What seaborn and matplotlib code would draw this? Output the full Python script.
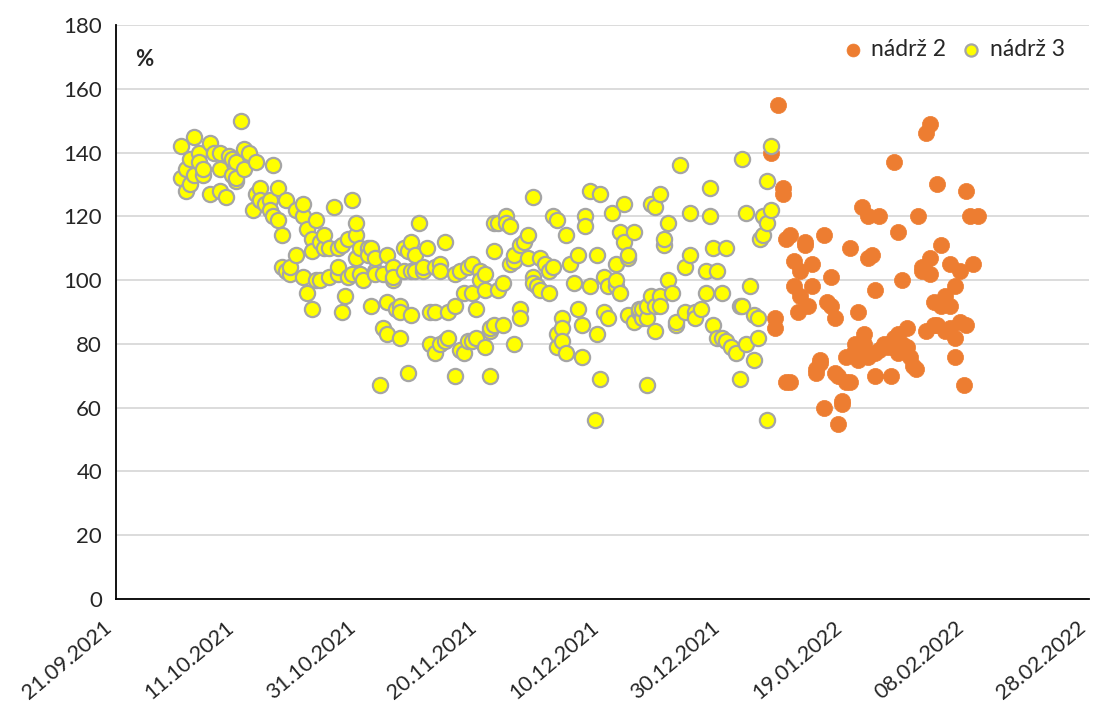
import matplotlib.pyplot as plt
import matplotlib.dates as mdates
import pandas as pd
import seaborn as sns

# Start date and day offsets
start = pd.Timestamp('2021-09-21')

n3_days = [10.7, 10.7, 11.5, 11.5, 12.2, 12.2, 12.8, 12.8, 13.7, 13.7, 14.3, 14.3, 15.5, 15.5,
           16.1, 17.1, 17.1, 17.1, 18.1, 18.6, 19.1, 19.1, 19.7, 19.7, 19.7, 20.6, 21.1, 21.1,
           21.9, 22.5, 23.0, 23.0, 23.7, 23.7, 23.7, 24.5, 25.3, 25.3, 25.8, 25.8, 26.6, 26.6,
           27.3, 27.3, 28.0, 28.0, 28.6, 28.6, 29.6, 29.6, 30.8, 30.8, 30.8, 31.4, 31.4,
           32.2, 32.2, 32.2, 32.9, 32.9, 33.6, 33.6, 34.2, 34.2, 35.0, 35.0, 35.9, 36.5, 36.5,
           36.5, 37.2, 37.2, 37.7, 38.2, 38.2, 38.8, 38.8, 39.5, 39.5, 39.5, 40.1, 40.1, 40.6,
           41.4, 41.4, 41.9, 41.9, 42.6, 42.6, 42.6, 43.4, 43.9, 43.9, 44.6, 44.6, 44.6,
           45.6, 45.6, 45.6, 46.1, 46.7, 46.7, 46.7, 47.4, 47.4, 48.0, 48.0, 48.5, 48.5, 48.5,
           49.2, 49.2, 49.8, 50.5, 50.5, 51.2, 51.6, 51.6, 52.5, 52.5, 52.5, 53.3, 53.3, 53.3,
           54.1, 54.1, 54.6, 54.6, 55.8, 55.8, 55.8, 56.6, 56.6, 57.2, 57.2, 57.9, 57.9,
           58.6, 58.6, 58.6, 59.2, 59.2, 59.9, 59.9, 60.7, 60.7, 60.7, 61.5, 61.5, 61.5,
           62.2, 62.2, 62.2, 62.8, 62.8, 63.7, 63.7, 64.1, 64.1, 64.8, 64.8, 65.5, 65.5, 65.5,
           66.4, 66.4, 66.4, 67.1, 67.8, 67.8, 68.6, 68.6, 68.6, 69.2, 69.7, 69.7, 70.6,
           71.2, 71.2, 71.9, 71.9, 72.5, 72.5, 72.5, 73.4, 73.4, 73.4, 74.0, 74.0, 74.7, 75.3,
           76.0, 76.0, 76.6, 76.6, 77.1, 77.1, 78.0, 78.0, 78.8, 79.1, 79.1, 79.6, 79.6,
           80.3, 80.3, 80.9, 80.9, 81.6, 82.2, 82.2, 82.2, 82.9, 82.9, 83.6, 83.6,
           84.2, 84.2, 84.2, 85.2, 85.2, 86.0, 86.0, 86.5, 86.5, 87.3, 87.3, 87.3, 88.0, 88.0,
           88.7, 88.7, 88.7, 89.5, 89.5, 89.5, 90.1, 90.1, 90.8, 90.8, 91.4, 92.1, 92.1, 92.8,
           93.6, 93.6, 94.4, 94.4, 95.2, 95.2, 96.2, 97.0, 97.0, 97.7, 97.7, 98.2, 98.2,
           98.8, 98.8, 99.7, 99.7, 100.3, 100.3, 101.2, 102.0, 102.6, 102.6, 103.0, 103.0,
           103.6, 103.6, 104.3, 104.9, 104.9, 105.6, 105.6, 105.9, 106.4, 106.4,
           107.1, 107.1, 107.1, 107.7, 107.7]
n3_vals = [142, 132, 128, 135, 130, 138, 145, 133, 140, 137, 133, 135, 127, 143,
           140, 128, 140, 135, 126, 139, 133, 138, 131, 132, 137, 150, 141, 135,
           140, 122, 137, 127, 125, 129, 125, 124, 125, 122, 136, 120, 129, 119,
           104, 114, 125, 103, 102, 104, 108, 122, 120, 124, 101, 116, 96,
           113, 109, 91, 119, 100, 112, 100, 110, 114, 101, 110, 123, 102, 104,
           110, 111, 90, 95, 113, 101, 125, 102, 114, 118, 107, 102, 110, 100,
           110, 108, 92, 110, 103, 107, 102, 67, 85, 102, 93, 83, 108,
           100, 104, 101, 91, 82, 92, 90, 103, 110, 71, 109, 103, 89, 112,
           108, 103, 118, 103, 104, 110, 90, 80, 104, 90, 77, 105, 80, 103,
           112, 81, 90, 82, 92, 70, 102, 103, 78, 96, 77, 81, 104,
           96, 105, 81, 82, 91, 103, 100, 102, 79, 97, 84, 85, 70,
           118, 86, 109, 118, 97, 86, 99, 120, 118, 105, 117, 80, 106, 108,
           91, 88, 111, 112, 114, 107, 101, 126, 99, 98, 107, 97, 105,
           96, 103, 120, 104, 79, 83, 119, 88, 85, 81, 114, 77, 105, 99,
           108, 91, 76, 86, 120, 117, 98, 128, 56, 108, 83, 69, 127,
           101, 90, 88, 98, 121, 105, 98, 100, 115, 96, 124, 112,
           107, 108, 89, 115, 87, 90, 91, 88, 91, 88, 92, 67, 124, 95,
           84, 123, 92, 95, 92, 127, 111, 113, 100, 118, 96, 86, 87, 136,
           104, 90, 108, 121, 90, 88, 91, 103, 96, 129, 120, 86, 110,
           82, 103, 82, 96, 81, 110, 79, 77, 92, 69, 138, 92,
           121, 80, 98, 89, 75, 82, 88, 113, 120, 114,
           56, 131, 118, 122, 142]

n2_days = [107.7, 108.4, 108.4, 108.9, 109.7, 109.7, 110.2, 110.2, 110.9, 110.9, 111.5, 111.5,
           112.2, 112.5, 112.5, 113.3, 113.3, 113.8, 114.5, 114.5, 115.1, 115.1, 115.8, 115.8,
           116.4, 116.4, 116.9, 117.6, 117.6, 118.3, 118.3, 118.8, 118.8, 119.4, 119.4,
           120.1, 120.1, 120.7, 120.7, 121.5, 121.5, 122.0, 122.0, 122.7, 123.0, 123.0,
           123.7, 123.7, 123.7, 124.3, 124.8, 124.8, 124.8, 125.5, 125.5, 126.3, 127.0, 127.5,
           128.0, 128.0, 128.6, 128.6, 128.6, 129.3, 129.3, 130.1, 130.1, 130.6, 131.1, 131.6,
           131.9, 132.6, 132.6, 133.2, 133.2, 133.9, 133.9, 133.9, 134.5, 134.5, 135.0, 135.0,
           135.7, 135.7, 136.3, 136.3, 137.2, 137.2, 137.2, 138.0, 138.0, 138.0, 138.8, 138.8,
           139.5, 139.8, 139.8, 140.5, 141.0, 141.8]
n2_vals = [140, 88, 85, 155, 129, 127, 113, 68, 114, 68, 106, 98,
           90, 103, 95, 111, 112, 92, 105, 98, 71, 72, 75, 74,
           114, 60, 93, 101, 92, 88, 71, 55, 70, 62, 61,
           76, 68, 110, 68, 78, 80, 90, 75, 123, 83, 80,
           107, 120, 76, 108, 97, 70, 77, 120, 78, 80, 79, 70,
           137, 82, 115, 77, 83, 100, 80, 79, 85, 76, 73, 72,
           120, 103, 104, 84, 146, 107, 149, 102, 93, 86, 130, 86,
           92, 111, 95, 84, 105, 92, 85, 76, 82, 98, 103, 87,
           67, 128, 86, 120, 105, 120]

df2 = pd.DataFrame({'date': start + pd.to_timedelta(n2_days, unit='D'), 'value': n2_vals})
df3 = pd.DataFrame({'date': start + pd.to_timedelta(n3_days, unit='D'), 'value': n3_vals})

sns.set_style('white')
plt.rcParams['font.family'] = ['Lato', 'DejaVu Sans']

fig = plt.figure(figsize=(10.97, 7.07), dpi=100)
ax = fig.add_axes([0.1057, 0.1528, 0.8870, 0.8118])

sns.scatterplot(data=df2, x='date', y='value', ax=ax, color='#ED7D31', s=135,
                edgecolor='#ED7D31', linewidth=0.5, label='nádrž 2', zorder=3)
sns.scatterplot(data=df3, x='date', y='value', ax=ax, color='#FFFF00', s=120,
                edgecolor='#A5A5A5', linewidth=1.6, label='nádrž 3', zorder=4)

ax.set_ylim(0, 180)
ax.set_yticks(range(0, 181, 20))
ax.set_xlim(pd.Timestamp('2021-09-21'), pd.Timestamp('2022-02-28'))
ax.set_xticks(pd.date_range('2021-09-21', '2022-02-28', freq='20D'))
ax.xaxis.set_major_formatter(mdates.DateFormatter('%d.%m.%Y'))
ax.grid(axis='y', color='#D9D9D9', linewidth=1.3, zorder=0)
ax.set_axisbelow(True)

for side in ['top', 'right']:
    ax.spines[side].set_visible(False)
for side in ['left', 'bottom']:
    ax.spines[side].set_color('black')
    ax.spines[side].set_linewidth(1.3)

ax.tick_params(axis='x', direction='out', length=6, width=1.2, color='black',
               labelsize=15.5, pad=7)
ax.tick_params(axis='y', direction='out', length=5, width=1.2, color='black',
               labelsize=16, pad=5)
plt.setp(ax.get_xticklabels(), rotation=40, ha='right', va='top')

ax.set_xlabel('')
ax.set_ylabel('')
ax.text(0.02, 0.94, '%', transform=ax.transAxes, fontsize=16, fontweight='bold',
        ha='left', va='center')

ax.legend(loc='upper right', bbox_to_anchor=(0.975, 0.975), frameon=False, fontsize=16.5,
          handlelength=0.8, handletextpad=0.4, columnspacing=0.7, ncol=2,
          borderaxespad=0, borderpad=0, markerscale=0.8)

plt.savefig('out.png', dpi=100)
